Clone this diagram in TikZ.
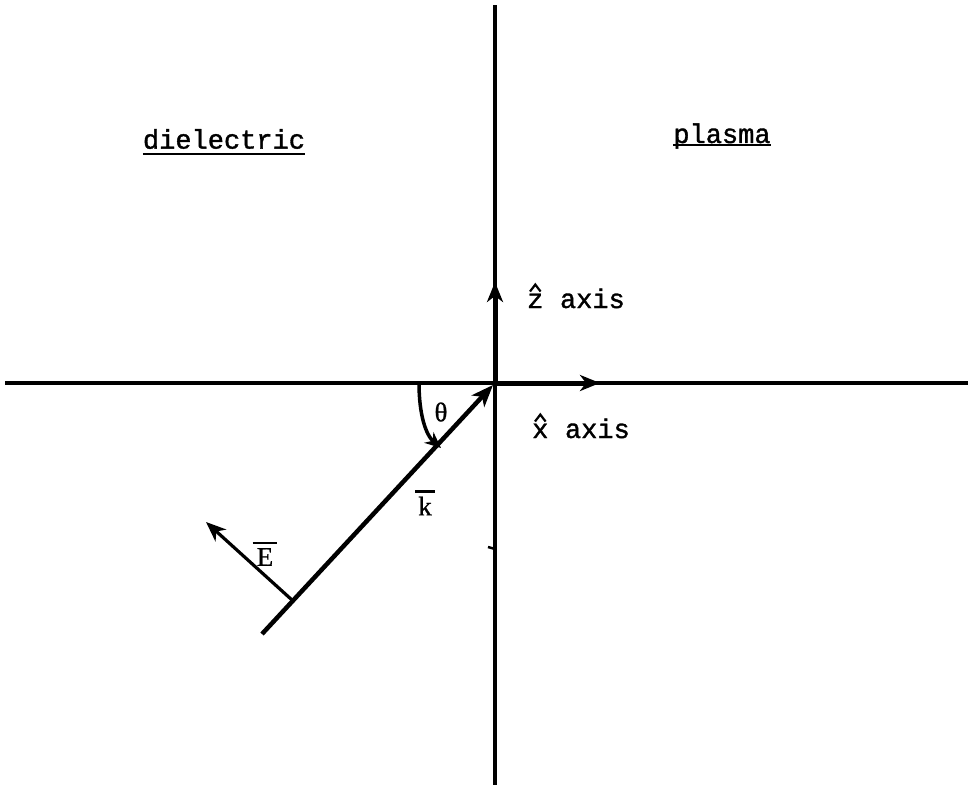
\documentclass[tikz,border=0pt]{standalone}
\usepackage{fontspec}
\newfontfamily\twfont[FakeBold=1.3]{Liberation Mono}
\newfontfamily\serifmono[FakeBold=0.8]{Liberation Serif}
\usetikzlibrary{arrows.meta}
\begin{document}
\begin{tikzpicture}[x=1pt,y=-1pt,
  axisline/.style={line width=3.6pt},
  vecarrow/.style={line width=5pt,-{Stealth[length=20pt,width=16pt,inset=6pt]}},
  lbl/.style={font=\twfont\fontsize{27}{29}\selectfont,inner sep=0pt},
  sym/.style={font=\serifmono\fontsize{27}{29}\selectfont,inner sep=0pt},
  bar/.style={line width=2.6pt},
  hatline/.style={line width=2.2pt,line join=miter}]
\useasboundingbox (0,0) rectangle (968,785);
% axes
\coordinate (top) at (495,5);
\coordinate (bot) at (495,785);
\coordinate (lft) at (5,383);
\coordinate (rgt) at (968,383);
\coordinate (O) at (495,383);
\draw[axisline] (top) -- (bot);
\draw[axisline] (lft) -- (rgt);
% small tick on the vertical line
\coordinate (tickA) at (488,547);
\coordinate (tickB) at (495,549);
\draw[line width=2.5pt] (tickA) -- (tickB);
% unit vectors
\coordinate (xtip) at (600,383);
\coordinate (ztip) at (495,282);
\draw[vecarrow] (O) -- (xtip);
\draw[vecarrow] (O) -- (ztip);
% k vector
\coordinate (kstart) at (262,634);
\coordinate (kend) at (493,385);
\draw[line width=4.5pt,-{Stealth[length=22pt,width=17pt,inset=6pt]}] (kstart) -- (kend);
% E vector
\coordinate (Ebase) at (292,600);
\coordinate (Etip) at (206,522);
\draw[line width=3.2pt,-{Stealth[length=20pt,width=16pt,inset=6pt]}] (Ebase) -- (Etip);
% angle theta
\coordinate (thA) at (419,383);
\coordinate (thB) at (441,448);
\draw[line width=3.5pt,-{Stealth[length=16pt,width=14pt,inset=5pt]}] (thA) .. controls (419,415) and (426,435) .. (thB);
% labels
\node[lbl] (diel) at (224,139) {dielectric};
\draw[bar] ([yshift=-5pt]diel.south west) -- ([yshift=-5pt]diel.south east);
\node[lbl] (plas) at (722,136) {plasma};
\draw[bar] ([yshift=-2pt]plas.base west) -- ([yshift=-2pt]plas.base east);
\node[lbl,anchor=base west] (zch) at (527,308) {z};
\node[lbl,anchor=base west] (zax) at (zch.base east) {\ axis};
\draw[hatline] ([xshift=3pt,yshift=2pt]zch.north west) -- ([yshift=9pt]zch.north) -- ([xshift=-3pt,yshift=2pt]zch.north east);
\node[lbl,anchor=base west] (xch) at (532,438) {x};
\node[lbl,anchor=base west] (xax) at (xch.base east) {\ axis};
\draw[hatline] ([xshift=3pt,yshift=2pt]xch.north west) -- ([yshift=9pt]xch.north) -- ([xshift=-3pt,yshift=2pt]xch.north east);
\node[sym] (th) at (441,412) {θ};
\node[sym] (kl) at (425,506) {k};
\draw[bar] ([xshift=-3pt,yshift=5pt]kl.north west) -- ([xshift=3pt,yshift=5pt]kl.north east);
\node[sym] (El) at (265,557) {E};
\draw[bar] ([xshift=-4pt,yshift=5pt]El.north west) -- ([xshift=4pt,yshift=5pt]El.north east);
\end{tikzpicture}
\end{document}
